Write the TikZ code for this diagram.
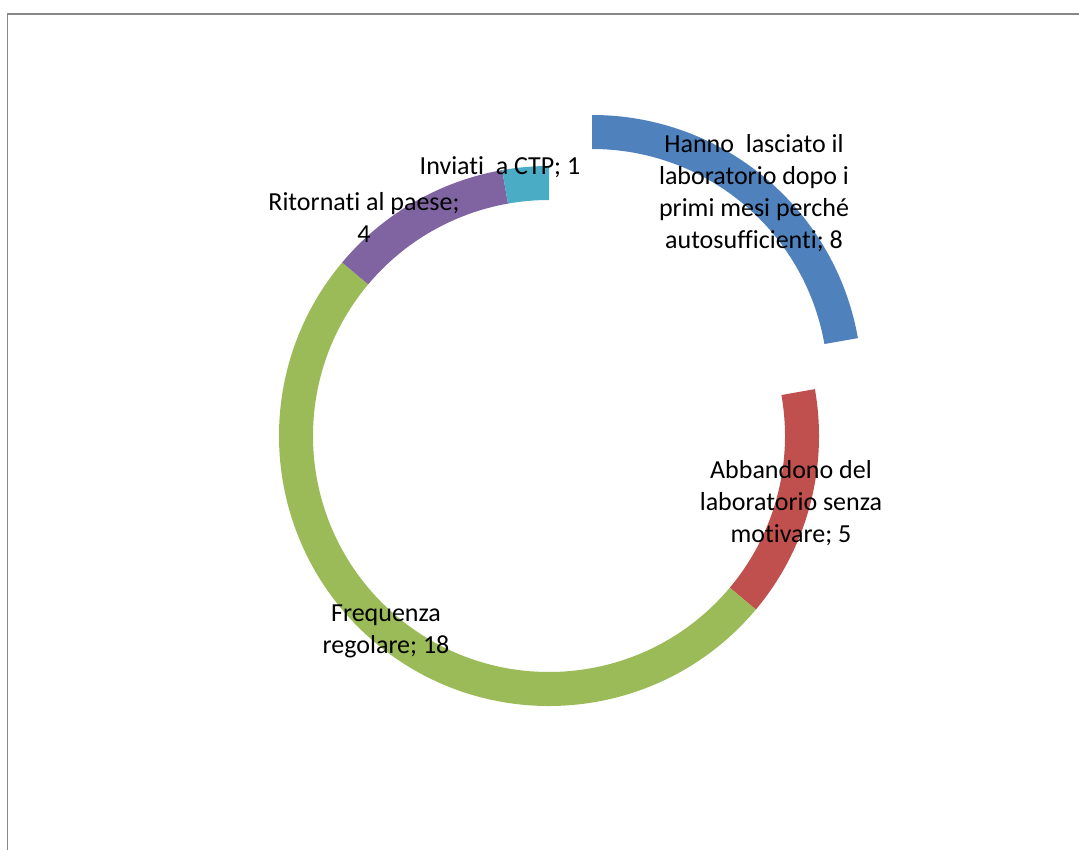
\documentclass[tikz,border=0pt]{standalone}
\usepackage{fontspec}
\setmainfont{Carlito}[Ligatures={NoCommon}]
\usetikzlibrary{calc}
\definecolor{cblue}{HTML}{4F81BD}
\definecolor{cred}{HTML}{C0504D}
\definecolor{cgreen}{HTML}{9BBB59}
\definecolor{cpurple}{HTML}{8064A2}
\definecolor{ccyan}{HTML}{4BACC6}
\definecolor{frame}{HTML}{888888}
\tikzset{
  lbl/.style={font=\fontsize{26}{32}\selectfont, align=center, inner sep=0pt, text=black},
}
\newcommand{\ringseg}[4]{% color, start, end, centre
  \fill[#1] ($(#4)+(#2:270)$) arc[start angle=#2, end angle=#3, radius=270]
    -- ($(#4)+(#3:236)$) arc[start angle=#3, end angle=#2, radius=236] -- cycle;}
\begin{document}
\begin{tikzpicture}[x=1pt,y=1pt]
\useasboundingbox (0,0) rectangle (1079,-850);
\fill[white] (0,0) rectangle (1079,-850);
\draw[frame, line width=1.6pt] (1079,-14) -- (7.5,-14) -- (7.5,-850);
\coordinate (c) at (549,-436);
\coordinate (cb) at (592,-385);
\ringseg{cblue}{90}{10}{cb}
\ringseg{cred}{10}{-40}{c}
\ringseg{cgreen}{-40}{-220}{c}
\ringseg{cpurple}{140}{100}{c}
\ringseg{ccyan}{100}{90}{c}
\node[lbl] (lblue) at (754,-193) {Hanno\ \ lasciato il\\laboratorio dopo i\\primi mesi perché\\autosufficienti; 8};
\node[lbl] (lred) at (791,-503) {Abbandono del\\laboratorio senza\\motivare; 5};
\node[lbl] (lgreen) at (386,-631) {Frequenza\\regolare; 18};
\node[lbl] (lpurple) at (364,-217) {Ritornati al paese;\\4};
\node[lbl, anchor=base] (lcyan) at (500,-175) {Inviati\ \ a CTP; 1};
\end{tikzpicture}
\end{document}
